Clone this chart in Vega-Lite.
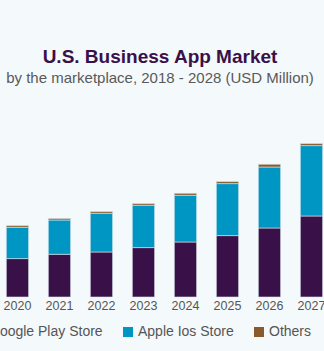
{
  "$schema": "https://vega.github.io/schema/vega-lite/v6.json",
  "autosize": {"type": "none"},
  "width": 324,
  "height": 197,
  "padding": {"left": 0, "top": 100, "right": 0, "bottom": 54},
  "background": "#f4f9fc",
  "title": {
    "text": "U.S. Business App Market",
    "subtitle": "by the marketplace, 2018 - 2028 (USD Million)",
    "anchor": "middle",
    "frame": "group",
    "dx": -2,
    "offset": 14,
    "font": "Liberation Sans",
    "fontSize": 19,
    "fontWeight": "bold",
    "color": "#3a1048",
    "subtitleFont": "Liberation Sans",
    "subtitleFontSize": 15,
    "subtitleColor": "#595959",
    "subtitlePadding": 4
  },
  "data": {
    "values": [
      {"year": "2020", "marketplace": "Google Play Store", "value": 384},
      {"year": "2020", "marketplace": "Apple Ios Store", "value": 313},
      {"year": "2020", "marketplace": "Others", "value": 17},
      {"year": "2021", "marketplace": "Google Play Store", "value": 427},
      {"year": "2021", "marketplace": "Apple Ios Store", "value": 343},
      {"year": "2021", "marketplace": "Others", "value": 14},
      {"year": "2022", "marketplace": "Google Play Store", "value": 450},
      {"year": "2022", "marketplace": "Apple Ios Store", "value": 387},
      {"year": "2022", "marketplace": "Others", "value": 17},
      {"year": "2023", "marketplace": "Google Play Store", "value": 494},
      {"year": "2023", "marketplace": "Apple Ios Store", "value": 423},
      {"year": "2023", "marketplace": "Others", "value": 17},
      {"year": "2024", "marketplace": "Google Play Store", "value": 550},
      {"year": "2024", "marketplace": "Apple Ios Store", "value": 467},
      {"year": "2024", "marketplace": "Others", "value": 20},
      {"year": "2025", "marketplace": "Google Play Store", "value": 614},
      {"year": "2025", "marketplace": "Apple Ios Store", "value": 520},
      {"year": "2025", "marketplace": "Others", "value": 20},
      {"year": "2026", "marketplace": "Google Play Store", "value": 690},
      {"year": "2026", "marketplace": "Apple Ios Store", "value": 610},
      {"year": "2026", "marketplace": "Others", "value": 27},
      {"year": "2027", "marketplace": "Google Play Store", "value": 810},
      {"year": "2027", "marketplace": "Apple Ios Store", "value": 704},
      {"year": "2027", "marketplace": "Others", "value": 20}
    ]
  },
  "mark": {"type": "bar", "stroke": "#d8e6ee", "strokeWidth": 0.6},
  "encoding": {
    "x": {
      "field": "year",
      "type": "ordinal",
      "scale": {"paddingInner": 0.47, "paddingOuter": 0.092, "align": 0.82, "round": false},
      "axis": {
        "title": null,
        "labelAngle": 0,
        "ticks": false,
        "domain": false,
        "labelPadding": 2,
        "labelFont": "Liberation Sans",
        "labelFontSize": 12.5,
        "labelColor": "#555555"
      }
    },
    "y": {
      "field": "value",
      "type": "quantitative",
      "stack": "zero",
      "scale": {"domain": [0, 1970], "nice": false},
      "axis": null
    },
    "color": {
      "field": "marketplace",
      "type": "nominal",
      "sort": ["Google Play Store", "Apple Ios Store", "Others"],
      "scale": {
        "domain": ["Google Play Store", "Apple Ios Store", "Others"],
        "range": ["#3a1048", "#0096c4", "#8b5a2b"]
      },
      "legend": {
        "title": null,
        "orient": "none",
        "direction": "horizontal",
        "legendX": -28,
        "legendY": 225,
        "symbolType": "square",
        "symbolSize": 100,
        "symbolStrokeWidth": 0,
        "labelFont": "Liberation Sans",
        "labelFontSize": 14,
        "labelColor": "#555555",
        "labelOffset": 3,
        "columnPadding": 18
      }
    },
    "order": {"field": "value", "type": "quantitative", "sort": "descending"}
  },
  "config": {"view": {"stroke": null}}
}
